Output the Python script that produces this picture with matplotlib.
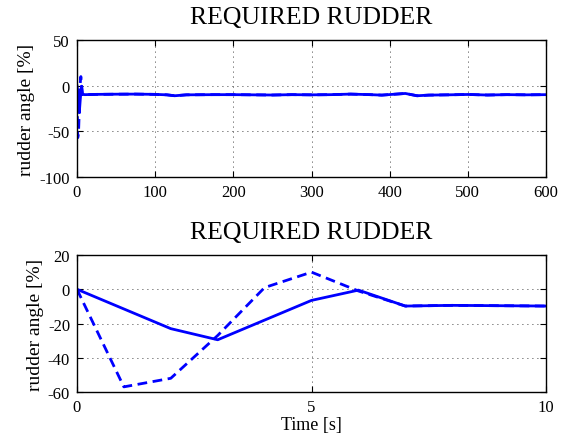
import numpy as np
import matplotlib
matplotlib.use("Agg")
import matplotlib.pyplot as plt

# first seconds, 1 s steps
t_start = [0, 1, 2, 3, 4, 5, 6, 7, 8, 9, 10]
rudder_solid = [0, -11.5, -23, -29.5, -18, -6.5, -0.5, -9.8, -9.4, -9.6, -9.8]
rudder_dashed = [0, -57, -52, -27, 1, 10, -1, -9.8, -9.4, -9.6, -9.8]

# rest of the run (both curves coincide)
t_rest = [25, 50, 75, 100, 115, 125, 140, 175, 200, 225, 250, 275, 300,
          325, 350, 375, 390, 420, 435, 450, 475, 500, 525, 550, 575, 600]
rudder_rest = [-9.5, -9.3, -9.2, -9.5, -10, -11, -10, -9.8, -9.8, -10,
               -10.2, -9.8, -10, -9.8, -9.2, -9.8, -10.3, -8.5, -11, -10.3,
               -10, -9.6, -10.2, -9.8, -10, -9.8]

plt.rcParams['font.family'] = ['Liberation Serif', 'DejaVu Serif']
plt.rcParams['axes.unicode_minus'] = False

BLUE = '#0000ff'


def style_axes(ax):
    ax.grid(True, color='black', linestyle=(0, (1, 5)), linewidth=0.6)
    ax.tick_params(direction='in', length=4, width=0.8, labelsize=12,
                   top=True, right=True, pad=5)
    for s in ax.spines.values():
        s.set_linewidth(1.0)
    ax.set_ylabel('rudder angle [%]', fontsize=14, labelpad=3)
    ax.set_title('REQUIRED RUDDER', fontsize=18.5, pad=12)


fig = plt.figure(figsize=(5.70, 4.39), dpi=100)
ax1 = fig.add_axes([0.135, 0.5945, 0.823, 0.312])
ax2 = fig.add_axes([0.135, 0.1048, 0.823, 0.312])

t_all = np.array(t_start + t_rest)
solid_all = np.array(rudder_solid + rudder_rest)
dashed_all = np.array(rudder_dashed + rudder_rest)

ax1.plot(t_all, dashed_all, color=BLUE, lw=2, ls='--', dashes=(3.5, 2))
ax1.plot(t_all, solid_all, color=BLUE, lw=2)
ax1.set_xlim(0, 600)
ax1.set_ylim(-100, 50)
ax1.set_xticks([0, 100, 200, 300, 400, 500, 600])
ax1.set_yticks([-100, -50, 0, 50])
style_axes(ax1)

ax2.plot(t_start, rudder_dashed, color=BLUE, lw=2, ls='--', dashes=(3.5, 2))
ax2.plot(t_start, rudder_solid, color=BLUE, lw=2)
ax2.set_xlim(0, 10)
ax2.set_ylim(-60, 20)
ax2.set_xticks([0, 5, 10])
ax2.set_yticks([-60, -40, -20, 0, 20])
ax2.set_xlabel('Time [s]', fontsize=13, labelpad=1)
style_axes(ax2)

fig.savefig('out.png', dpi=100)
